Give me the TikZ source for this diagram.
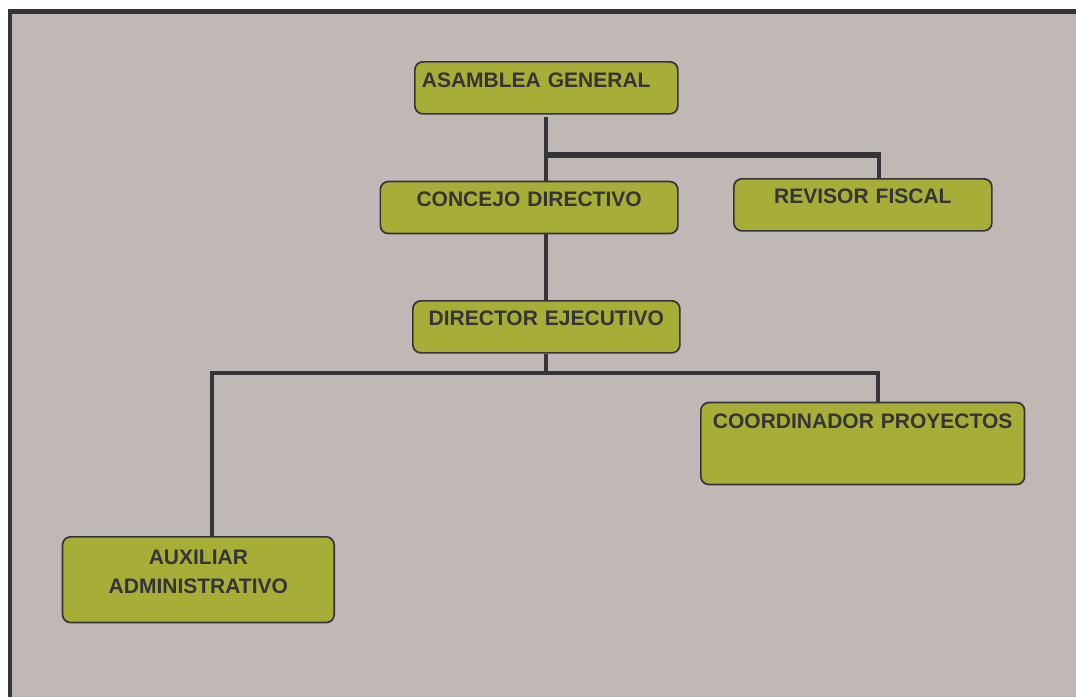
\documentclass[tikz,border=0pt]{standalone}
\usepackage{fontspec}
\setmainfont{Liberation Sans}
\usetikzlibrary{calc}
\definecolor{paper}{HTML}{C0B8B5}
\definecolor{boxgreen}{HTML}{A6AE38}
\definecolor{ink}{HTML}{353439}
\tikzset{%
  office/.style={draw=ink, line width=1.7pt, fill=boxgreen, rounded corners=8pt,
    text=ink, font=\fontsize{21}{29.4}\selectfont\bfseries,
    inner xsep=0pt, inner ysep=0pt, align=center, anchor=north west,
    text height=25pt, text depth=27pt},
  link/.style={draw=ink, line width=3.8pt},
  trunk/.style={draw=ink, line width=6pt},
}
\begin{document}
\begin{tikzpicture}[x=1pt, y=-1pt]
  \useasboundingbox (0,0) rectangle (1076,697);
  % frame
  \fill[white] (0,0) rectangle (1076,697);
  \fill[ink] (8,9) rectangle (1076,697);
  \fill[paper] (12.3,14) rectangle (1076,697);
  % boxes
  \node[office, text width=249pt, inner xsep=7pt, align=left,
    text height=25.7pt, text depth=26.3pt] (asamblea) at (414,61)
    {ASAMBLEA GENERAL};
  \node[office, text width=297.5pt] (concejo) at (379.5,180.7)
    {CONCEJO DIRECTIVO};
  \node[office, text width=258pt] (revisor) at (733,178)
    {REVISOR FISCAL};
  \node[office, text width=267pt] (director) at (412,300)
    {DIRECTOR EJECUTIVO};
  \node[office, text width=323.7pt, text height=25.6pt, text depth=56.4pt]
    (coordinador) at (700,401.7) {COORDINADOR PROYECTOS};
  \node[office, text width=271.6pt, text height=27.3pt, text depth=58.4pt]
    (auxiliar) at (61.7,536) {AUXILIAR\\ADMINISTRATIVO};
  % connectors
  \coordinate (jR) at (879,154.7);
  \coordinate (jL) at (211.7,373);
  \coordinate (jC) at (878.3,373);
  \draw[link, shorten <=2.5pt] (asamblea.south) -- (asamblea.south |- concejo.north);
  \draw[trunk, shorten <=-2pt, shorten >=-2pt] (asamblea.south |- jR) -- (jR);
  \draw[link] ($(jR)+(0,-3)$) -- (jR |- revisor.north);
  \draw[link] (director.north |- concejo.south) -- (director.north);
  \draw[link] (director.south) -- (director.south |- jL);
  \draw[link] (jL |- auxiliar.north) -- (jL) -- (jC) -- (jC |- coordinador.north);
\end{tikzpicture}
\end{document}
